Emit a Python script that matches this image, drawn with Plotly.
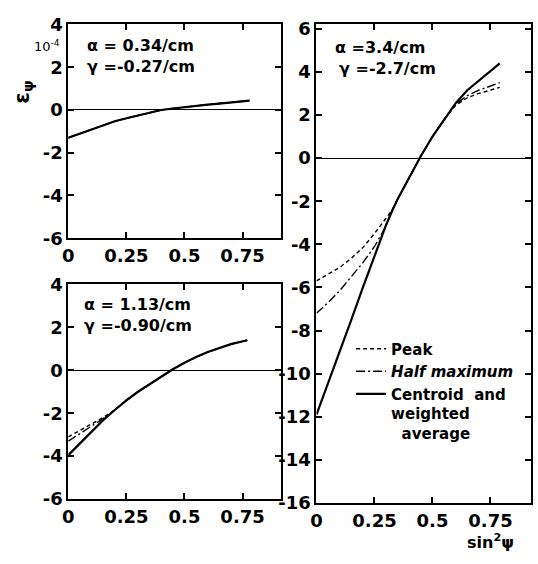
import plotly.graph_objects as go

# ---------------- data ----------------
# Panel a: alpha = 0.34/cm, gamma = -0.27/cm (all three methods coincide)
xa = [0, 0.05, 0.1, 0.15, 0.2, 0.25, 0.3, 0.35, 0.4, 0.45, 0.5, 0.55, 0.6, 0.65, 0.7, 0.78]
ya_centroid = [-1.3, -1.1, -0.9, -0.7, -0.53, -0.39, -0.25, -0.13, 0.0, 0.07, 0.14, 0.2, 0.25, 0.3, 0.35, 0.44]
ya_peak = ya_centroid
ya_half = ya_centroid

# Panel b: alpha = 1.13/cm, gamma = -0.90/cm
xb = [0, 0.05, 0.1, 0.15, 0.2, 0.25, 0.3, 0.35, 0.4, 0.45, 0.5, 0.55, 0.6, 0.65, 0.7, 0.77]
yb_centroid = [-3.95, -3.4, -2.85, -2.32, -1.85, -1.4, -1.0, -0.65, -0.3, 0.05, 0.35, 0.62, 0.85, 1.05, 1.22, 1.4]
yb_peak = [-3.1, -2.8, -2.5, -2.2, -1.85, -1.4, -1.0, -0.65, -0.3, 0.05, 0.35, 0.62, 0.85, 1.05, 1.22, 1.4]
yb_half = [-3.3, -2.95, -2.6, -2.25, -1.85, -1.4, -1.0, -0.65, -0.3, 0.05, 0.35, 0.62, 0.85, 1.05, 1.22, 1.4]

# Panel c: alpha = 3.4/cm, gamma = -2.7/cm
xc = [0, 0.05, 0.1, 0.15, 0.2, 0.25, 0.3, 0.33, 0.35, 0.4, 0.45, 0.5, 0.55, 0.6, 0.65, 0.7, 0.75, 0.79]
yc_centroid = [-11.9, -10.45, -9.0, -7.5, -6.0, -4.55, -3.1, -2.35, -1.9, -0.9, 0.1, 1.0, 1.8, 2.55, 3.15, 3.6, 4.05, 4.4]
yc_peak = [-5.7, -5.4, -5.07, -4.65, -4.15, -3.5, -2.75, -2.35, -1.9, -0.9, 0.1, 1.0, 1.8, 2.45, 2.8, 3.0, 3.15, 3.28]
yc_half = [-7.2, -6.7, -6.15, -5.5, -4.85, -4.1, -3.15, -2.35, -1.9, -0.9, 0.1, 1.0, 1.8, 2.5, 2.9, 3.15, 3.35, 3.5]

x_ticks = [0, 0.25, 0.5, 0.75]
x_tick_text = ["0", "0.25", "0.5", "0.75"]
left_y_ticks = [4, 2, 0, -2, -4, -6]
right_y_ticks = [6, 4, 2, 0, -2, -4, -6, -8, -10, -12, -14, -16]

series_names = ["Peak", "<i>Half maximum</i>", "Centroid  and<br>weighted<br>\u00a0\u00a0average"]

# ---------------- figure ----------------
W, H = 538, 564
FONT = "DejaVu Sans"
fig = go.Figure()

dash_peak = "4px,3px"
dash_half = "9px,3px,2px,3px"

panels = [
    ("x", "y", xa, ya_peak, ya_half, ya_centroid, False),
    ("x2", "y2", xb, yb_peak, yb_half, yb_centroid, False),
    ("x3", "y3", xc, yc_peak, yc_half, yc_centroid, True),
]
for xax, yax, xs, yp, yh, yc, leg in panels:
    fig.add_trace(go.Scatter(x=xs, y=yp, mode="lines", xaxis=xax, yaxis=yax,
                             name=series_names[0], showlegend=leg,
                             line=dict(color="black", width=1.4, dash=dash_peak)))
    fig.add_trace(go.Scatter(x=xs, y=yh, mode="lines", xaxis=xax, yaxis=yax,
                             name=series_names[1], showlegend=leg,
                             line=dict(color="black", width=1.4, dash=dash_half)))
    fig.add_trace(go.Scatter(x=xs, y=yc, mode="lines", xaxis=xax, yaxis=yax,
                             name=series_names[2], showlegend=leg,
                             line=dict(color="black", width=2.2)))


def px_x(a, b):
    return [a / W, b / W]


def px_y(top, bottom):
    return [(H - bottom) / H, (H - top) / H]


def labels(vals):
    return [str(v) for v in vals]


axis_common = dict(showline=True, linecolor="black", linewidth=2, mirror="ticks",
                   ticks="inside", ticklen=6, tickwidth=1.5, tickcolor="black",
                   showgrid=False, tickfont=dict(family=FONT, size=18, color="black",
                                                 weight="bold"))

fig.update_layout(
    width=W, height=H, margin=dict(l=0, r=0, t=0, b=0),
    paper_bgcolor="white", plot_bgcolor="white",
    xaxis=dict(domain=px_x(63, 278), range=[0, 0.915], tickvals=x_ticks, ticktext=x_tick_text,
               anchor="y", zeroline=False, **axis_common),
    yaxis=dict(domain=px_y(14, 236), range=[-6, 4], tickvals=left_y_ticks,
               ticktext=labels(left_y_ticks), anchor="x",
               zeroline=True, zerolinecolor="black", zerolinewidth=1, **axis_common),
    xaxis2=dict(domain=px_x(63, 278), range=[0, 0.915], tickvals=x_ticks, ticktext=x_tick_text,
                anchor="y2", zeroline=False, **axis_common),
    yaxis2=dict(domain=px_y(284, 507), range=[-6, 4], tickvals=left_y_ticks,
                ticktext=labels(left_y_ticks), anchor="x2",
                zeroline=True, zerolinecolor="black", zerolinewidth=1, **axis_common),
    xaxis3=dict(domain=px_x(314, 531), range=[0, 0.925], tickvals=x_ticks, ticktext=x_tick_text,
                anchor="y3", zeroline=False, **axis_common),
    yaxis3=dict(domain=px_y(14, 511), range=[-16, 6.2], tickvals=right_y_ticks,
                ticktext=labels(right_y_ticks), anchor="x3",
                zeroline=True, zerolinecolor="black", zerolinewidth=1, **axis_common),
    showlegend=True,
    legend=dict(x=349 / W, y=(H - 334) / H, xanchor="left", yanchor="top",
                bgcolor="rgba(0,0,0,0)", borderwidth=0, itemwidth=30,
                valign="top", tracegroupgap=0,
                font=dict(family=FONT, size=15, color="black", weight="bold")),
)

ann_font = dict(family=FONT, size=16, color="black", weight="bold")
annotations = [
    dict(text="α = 0.34/cm", x=80 / W, y=(H - 36) / H),
    dict(text="γ =-0.27/cm", x=80 / W, y=(H - 58) / H),
    dict(text="α = 1.13/cm", x=77 / W, y=(H - 305) / H),
    dict(text="γ =-0.90/cm", x=77 / W, y=(H - 327) / H),
    dict(text="α =3.4/cm", x=331 / W, y=(H - 38) / H),
    dict(text="γ =-2.7/cm", x=335 / W, y=(H - 60) / H),
]
for a in annotations:
    fig.add_annotation(xref="paper", yref="paper", xanchor="left", yanchor="middle",
                       showarrow=False, font=ann_font, **a)

fig.add_annotation(text="10<sup>-4</sup>", xref="paper", yref="paper", x=57 / W, y=(H - 36) / H,
                   xanchor="right", yanchor="middle", showarrow=False,
                   font=dict(family=FONT, size=13, color="black"))
fig.add_annotation(text="ε<sub>ψ</sub>", xref="paper", yref="paper", x=17 / W, y=(H - 84) / H,
                   xanchor="center", yanchor="middle", showarrow=False, textangle=-90,
                   font=dict(family=FONT, size=21, color="black", weight="bold"))
fig.add_annotation(text="sin<sup>2</sup>ψ", xref="paper", yref="paper", x=490 / W, y=0,
                   xanchor="center", yanchor="bottom", showarrow=False,
                   font=dict(family=FONT, size=16, color="black", weight="bold"))

fig.write_html("out.html")
